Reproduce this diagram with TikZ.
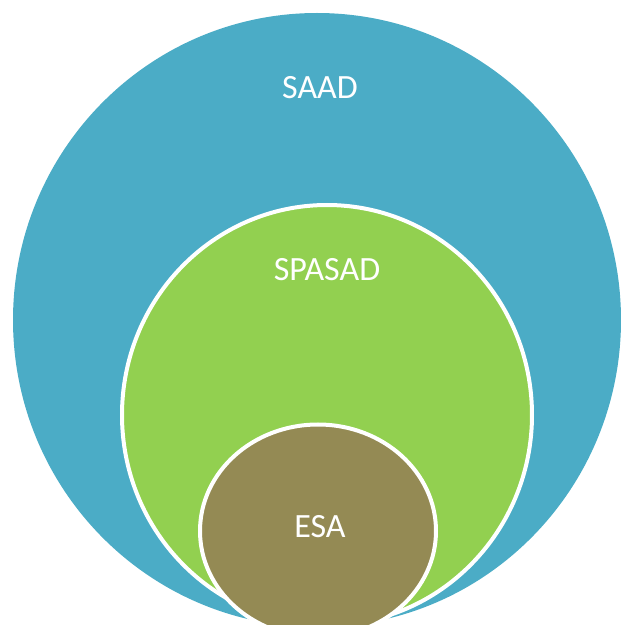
\documentclass[tikz,border=0pt]{standalone}
\usepackage{fontspec}
\setmainfont{Carlito}
\definecolor{saadblue}{HTML}{4BACC6}
\definecolor{spasadgreen}{HTML}{92D050}
\definecolor{esabrown}{HTML}{948A54}
\begin{document}
\begin{tikzpicture}[x=1pt, y=1pt,
    set/.style={draw=white, line width=4pt},
    lbl/.style={text=white, font=\fontsize{34}{40}\selectfont, inner sep=0pt}]
\useasboundingbox (0,0) rectangle (621,625);
\clip (0,0) rectangle (621,625);

\fill[saadblue](317,305)ellipse[x radius=304, y radius=307];
\filldraw[set, fill=spasadgreen](327,210)ellipse[x radius=205, y radius=210];
\filldraw[set, fill=esabrown](318,94)ellipse[x radius=118, y radius=106.5];

\node[lbl] (saad) at (320,537) {SAAD};
\node[lbl] (spasad) at (327,355) {SPASAD};
\node[lbl] (esa) at (320,98) {ESA};

\end{tikzpicture}
\end{document}
